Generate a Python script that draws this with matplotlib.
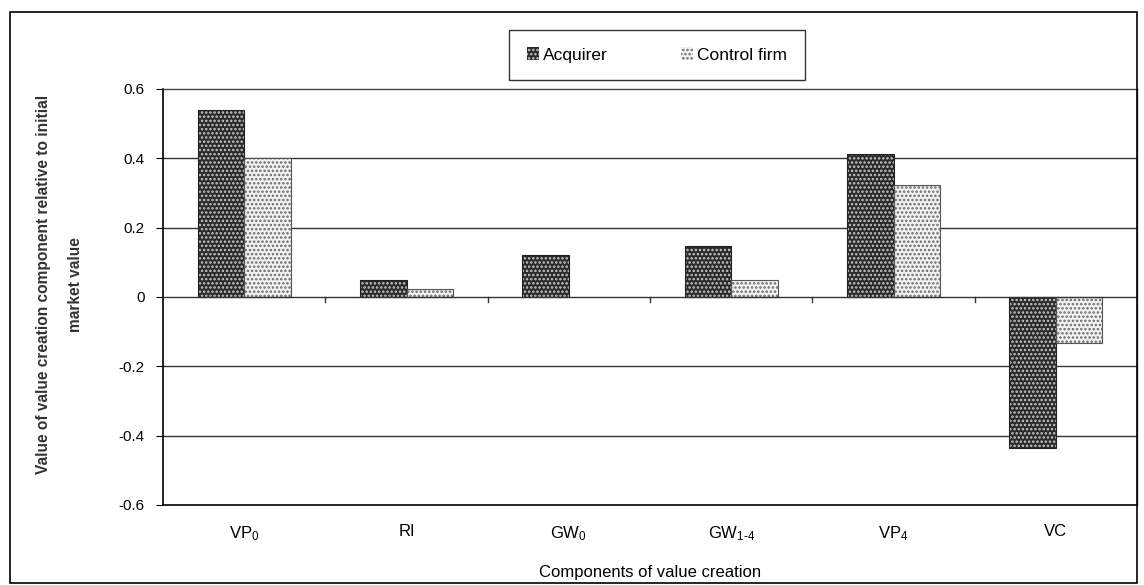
import numpy as np
import matplotlib.pyplot as plt
from matplotlib.patches import Rectangle, Patch

# data
categories = ["VP$_0$", "RI", "GW$_0$", "GW$_{1\\text{-}4}$", "VP$_4$", "VC"]
acquirer = [0.539, 0.049, 0.121, 0.148, 0.412, -0.436]
control = [0.400, 0.022, 0.0, 0.049, 0.323, -0.133]
yticks = [-0.6, -0.4, -0.2, 0, 0.2, 0.4, 0.6]
ytick_labels = ["-0.6", "-0.4", "-0.2", "0", "0.2", "0.4", "0.6"]

plt.rcParams["font.family"] = ["Liberation Sans", "DejaVu Sans"]
plt.rcParams["mathtext.fontset"] = "custom"
plt.rcParams["mathtext.rm"] = "Liberation Sans"
plt.rcParams["mathtext.it"] = "Liberation Sans"
plt.rcParams["hatch.linewidth"] = 1.2

fig = plt.figure(figsize=(11.44, 5.85), dpi=100)
ax = fig.add_axes([0.1425, 0.1368, 0.8514, 0.7111])

x = np.arange(len(categories))
w = 0.286

# filled + hatched bars (hatch takes edge colour), then outlines on top
ax.bar(x - w / 2, acquirer, w, color="#2a2a2a", hatch="....", edgecolor="#c8c8c8", linewidth=0, zorder=3)
ax.bar(x + w / 2, control, w, color="#f2f2f2", hatch="....", edgecolor="#6a6a6a", linewidth=0, zorder=3)
ax.bar(x - w / 2, acquirer, w, fill=False, edgecolor="#222222", linewidth=0.8, zorder=4)
ax.bar(x + w / 2, [c if c != 0 else np.nan for c in control], w, fill=False,
       edgecolor="#555555", linewidth=0.8, zorder=4)

ax.set_xlim(-0.5, len(categories) - 0.5)
ax.set_ylim(-0.6, 0.6)
ax.set_yticks(yticks)
ax.set_yticklabels(ytick_labels, fontsize=11)
ax.tick_params(axis="y", direction="out", length=5, width=0.8, pad=8)

# gridlines
for yv in [-0.4, -0.2, 0.2, 0.4]:
    ax.axhline(yv, color="#333333", linewidth=1.0, zorder=1)
ax.axhline(0, color="#333333", linewidth=1.0, zorder=5)

# category labels at the bottom, boundary ticks on the zero line
ax.set_xticks(x)
ax.set_xticklabels(categories, fontsize=12)
ax.tick_params(axis="x", length=0, pad=14)
for b in np.arange(0.5, len(categories) - 0.5, 1.0):
    ax.plot([b, b], [0, -0.015], color="#333333", linewidth=1.0, zorder=5, clip_on=False)

for side in ["top", "right"]:
    ax.spines[side].set_color("#444444")
    ax.spines[side].set_linewidth(1.0)
for side in ["left", "bottom"]:
    ax.spines[side].set_color("black")
    ax.spines[side].set_linewidth(1.2)

ax.set_xlabel("Components of value creation", fontsize=12, labelpad=16)
ax.set_ylabel("Value of value creation component relative to initial\nmarket value",
              fontsize=11.2, fontweight="bold", color="#333333", linespacing=2.4)
ax.yaxis.set_label_coords(-0.082, 0.53)

handles = [Patch(facecolor="#2a2a2a", hatch="....", edgecolor="#c8c8c8", linewidth=0),
           Patch(facecolor="#f2f2f2", hatch="....", edgecolor="#6a6a6a", linewidth=0)]
leg = fig.legend(handles, ["Acquirer", "Control firm"], loc="center",
                 bbox_to_anchor=(657 / 1144, 1 - 55 / 585), ncol=2, fontsize=12.5,
                 frameon=True, fancybox=False, handlelength=0.7, handleheight=0.7,
                 handletextpad=0.25, columnspacing=4.2, borderpad=1.0, borderaxespad=0)
leg.get_frame().set_edgecolor("black")
leg.get_frame().set_linewidth(1.0)

# outer chart border
fig.patches.append(Rectangle((10 / 1144, 2 / 585), 1127 / 1144, 571 / 585, fill=False,
                             edgecolor="black", linewidth=1.2, transform=fig.transFigure))

fig.savefig("out.png", dpi=100)
